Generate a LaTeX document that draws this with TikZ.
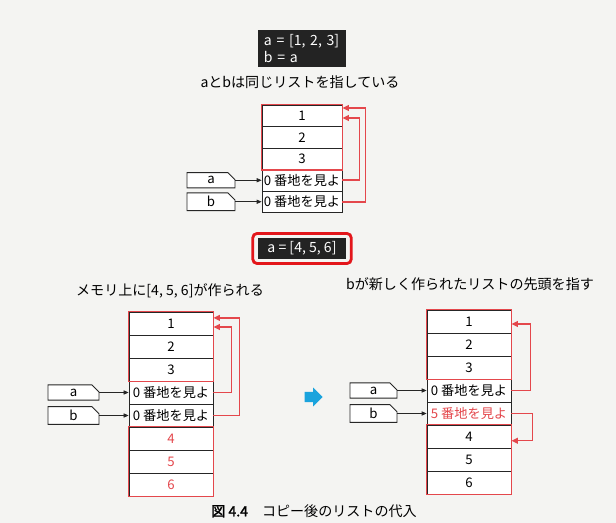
\documentclass[tikz,border=0pt]{standalone}
\usepackage{fontspec}
\setmainfont{Noto Sans CJK JP}[AutoFakeBold=2]
\usetikzlibrary{arrows.meta,shapes.misc,shapes.arrows,fit}

\definecolor{listred}{HTML}{E4474C}
\definecolor{boxred}{HTML}{E3161B}
\definecolor{codebg}{HTML}{232323}
\definecolor{pagebg}{HTML}{F4F4F2}
\definecolor{hintblue}{HTML}{1AA3DD}

\tikzset{
  cell/.style={draw=black!85, fill=white, line width=0.6pt, minimum width=2cm,
    minimum height=0.5375cm, inner sep=0pt, font=\fontsize{9.4}{11}\selectfont},
  bigcell/.style={cell, minimum width=2.1cm, minimum height=0.575cm},
  group/.style={draw=listred, line width=1.3pt},
  varbox/.style={chamfered rectangle, chamfered rectangle corners=north east,
    chamfered rectangle xsep=2.5pt, chamfered rectangle ysep=2.5pt,
    draw=black!85, fill=white, line width=0.6pt, minimum width=1.2cm,
    minimum height=0.38cm, inner sep=0pt, font=\fontsize{9.4}{11}\selectfont},
  varptr/.style={draw=black!85, line width=0.5pt, -{Triangle[length=3.5pt,width=3pt]}},
  ptr/.style={draw=listred, line width=1.1pt, -{Triangle[length=4.5pt,width=4pt]}},
  codebox/.style={fill=codebg, text=white, font=\fontsize{10}{12}\selectfont,
    inner sep=0pt, minimum width=2.2cm},
  caption/.style={font=\fontsize{10}{12}\selectfont}
}

\begin{document}
\begin{tikzpicture}[x=0.025cm, y=-0.025cm]
  \useasboundingbox[fill=pagebg] (0,0) rectangle (616,523);

  % code
  \node[codebox, minimum height=0.925cm, align=left, text width=1.9cm] (code1)
    at (302,48.5) {a = [1, 2, 3]\\b = a};
  \node[caption] (cap1) at (300,82) {aとbは同じリストを指している};

  % list before the assignment
  \node[cell] (t1) at (302,115.75) {1}; \node[cell] (t2) at (302,137.25) {2};
  \node[cell] (t3) at (302,158.75) {3};
  \node[cell] (t4) at (302,180.25) {0 番地を見よ};
  \node[cell] (t5) at (302,201.75) {0 番地を見よ};
  \draw[group] (t1.north west) rectangle (t3.south east);
  \node[varbox] (ta) at (211,180.25) {a}; \node[varbox] (tb) at (211,201.75) {b};
  \draw[varptr] (ta.east) -- (t4.west); \draw[varptr] (tb.east) -- (t5.west);
  \draw[ptr] (t4.east) -- ++(17,0) |- ([yshift=-1.6pt]t1.east);
  \draw[ptr] (t5.east) -- ++(23,0) |- ([yshift=5.5pt]t1.east);

  % new assignment
  \node[codebox, minimum height=0.525cm] (code2) at (302,248.5) {a = [4, 5, 6]};
  \node[draw=boxred, line width=2pt, rounded corners=3pt, inner xsep=3.5pt,
    inner ysep=3pt, fit=(code2)] (hilite) {};

  % labels
  \node[caption] (cap2) at (170,291) {メモリ上に[4, 5, 6]が作られる};
  \node[caption] (cap3) at (470,284) {bが新しく作られたリストの先頭を指す};

  % left list
  \node[bigcell] (l1) at (171,323.5) {1}; \node[bigcell] (l2) at (171,346.5) {2};
  \node[bigcell] (l3) at (171,369.5) {3};
  \node[bigcell] (l4) at (171,392.5) {0 番地を見よ};
  \node[bigcell] (l5) at (171,415.5) {0 番地を見よ};
  \node[bigcell, text=listred] (l6) at (171,438.5) {4};
  \node[bigcell, text=listred] (l7) at (171,461.5) {5};
  \node[bigcell, text=listred] (l8) at (171,484.5) {6};
  \draw[group] (l1.north west) rectangle (l3.south east);
  \draw[group] (l6.north west) rectangle (l8.south east);
  \node[varbox, minimum width=1.275cm] (la) at (73.5,392.5) {a};
  \node[varbox, minimum width=1.275cm] (lb) at (73.5,415.5) {b};
  \draw[varptr] (la.east) -- (l4.west); \draw[varptr] (lb.east) -- (l5.west);
  \draw[ptr] (l4.east) -- ++(18,0) |- ([yshift=-2.5pt]l1.east);
  \draw[ptr] (l5.east) -- ++(26,0) |- ([yshift=4pt]l1.east);

  % arrow between the two states
  \node[single arrow, fill=hintblue, inner sep=3.5pt, minimum height=0.45cm,
    single arrow head extend=3pt] (step) at (311,397) {};

  % right list
  \node[bigcell] (r1) at (469,321.5) {1}; \node[bigcell] (r2) at (469,344.5) {2};
  \node[bigcell] (r3) at (469,367.5) {3};
  \node[bigcell] (r4) at (469,390.5) {0 番地を見よ};
  \node[bigcell, text=listred] (r5) at (469,413.5) {5 番地を見よ};
  \node[bigcell] (r6) at (469,436.5) {4}; \node[bigcell] (r7) at (469,459.5) {5};
  \node[bigcell] (r8) at (469,482.5) {6};
  \draw[group] (r1.north west) rectangle (r3.south east);
  \draw[group] (r6.north west) rectangle (r8.south east);
  \node[varbox, minimum width=1.175cm] (ra) at (373.5,390.5) {a};
  \node[varbox, minimum width=1.175cm] (rb) at (373.5,413.5) {b};
  \draw[varptr] (ra.east) -- (r4.west); \draw[varptr] (rb.east) -- (r5.west);
  \draw[ptr] (r4.east) -- ++(19,0) |- ([yshift=-1.8pt]r1.east);
  \draw[ptr] (r5.east) -- ++(21,0) |- ([yshift=-3pt]r6.east);

  % figure caption
  \node[caption] (figcap) at (314,511) {{\bfseries 図 4.4}\quad コピー後のリストの代入};
\end{tikzpicture}
\end{document}
